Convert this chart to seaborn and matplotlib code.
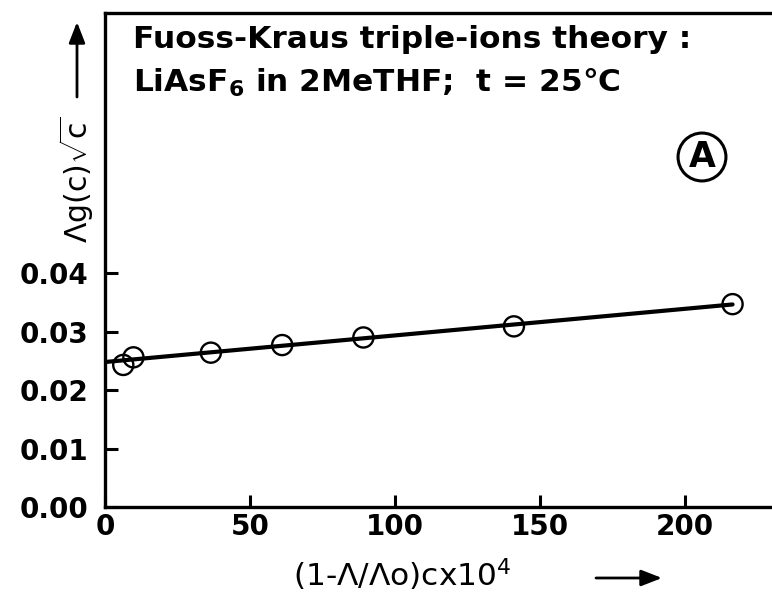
import numpy as np
import pandas as pd
import matplotlib
matplotlib.use("Agg")
import matplotlib.pyplot as plt
import seaborn as sns

# Fuoss-Kraus triple-ion plot for LiAsF6 in 2MeTHF at 25 °C
x_vals = [6.3, 9.8, 36.5, 61.1, 89.1, 141.0, 216.4]          # (1 - Λ/Λo) c x 10^4
y_vals = [0.0243, 0.0256, 0.0264, 0.0277, 0.0290, 0.0309, 0.0347]  # Λ g(c) √c

fit_intercept = 0.0248
fit_slope = 4.55e-5
fit_x = [0.0, 216.4]

x_ticks = [0, 50, 100, 150, 200]
y_ticks = [0.00, 0.01, 0.02, 0.03, 0.04]
y_tick_labels = ["0.00", "0.01", "0.02", "0.03", "0.04"]

sns.set_theme(style="ticks")
FONT = "DejaVu Sans"
plt.rcParams["font.family"] = [FONT]
plt.rcParams["text.color"] = "black"
plt.rcParams["mathtext.fontset"] = "custom"
plt.rcParams["mathtext.rm"] = FONT
plt.rcParams["mathtext.bf"] = FONT + ":bold"
plt.rcParams["mathtext.it"] = FONT

W, H = 772, 600
fig = plt.figure(figsize=(W / 100, H / 100), dpi=100)
ax = fig.add_axes([105 / W, 1 - 507 / H, 1 - 105 / W, (507 - 13) / H])

points = pd.DataFrame({"x": x_vals, "y": y_vals})
fit = pd.DataFrame({"x": fit_x,
                    "y": [fit_intercept + fit_slope * v for v in fit_x]})

sns.lineplot(data=fit, x="x", y="y", ax=ax, color="black", linewidth=3.0)
sns.scatterplot(data=points, x="x", y="y", ax=ax, marker="o", s=210,
                facecolors="none", edgecolor="black", linewidth=1.7, zorder=3)

ax.set_xlim(0, 230)
ax.set_ylim(0, 0.0845)
ax.set_xticks(x_ticks)
ax.set_yticks(y_ticks)
ax.set_yticklabels(y_tick_labels)
ax.set_xlabel("")
ax.set_ylabel("")

for side in ("left", "top", "bottom"):
    ax.spines[side].set_linewidth(2.4)
    ax.spines[side].set_color("black")
ax.spines["right"].set_visible(False)

ax.tick_params(axis="both", direction="in", length=9, width=2.2,
               colors="black", labelsize=20)
ax.tick_params(axis="y", pad=12)
ax.tick_params(axis="x", pad=4)
for lab in ax.get_xticklabels() + ax.get_yticklabels():
    lab.set_fontweight("bold")
    lab.set_color("black")

# Header text inside the frame
fig.text(133 / W, 1 - 48 / H, "Fuoss-Kraus triple-ions theory :",
         fontsize=22.5, fontweight="bold", va="baseline", ha="left")
fig.text(133 / W, 1 - 92 / H, r"LiAsF$_\mathbf{6}$ in 2MeTHF;  t = 25°C",
         fontsize=22.5, fontweight="bold", va="baseline", ha="left")

# Panel tag
fig.text(702 / W, 1 - 157 / H, "A", fontsize=25, fontweight="bold",
         ha="center", va="center",
         bbox=dict(boxstyle="circle,pad=0.2", fc="none", ec="black", lw=2.2))

# Axis titles with direction arrows
fig.text(77 / W, 1 - 180 / H, r"Λg(c)$\sqrt{\mathrm{c}}$", rotation=90,
         fontsize=21.5, ha="center", va="center")
fig.text(402 / W, 1 - 575 / H, "(1-Λ/Λo)cx10$^4$",
         fontsize=22.5, ha="center", va="center")

arrow = dict(arrowstyle="-|>,head_length=0.9,head_width=0.35", color="black",
             lw=2.0, shrinkA=0, shrinkB=0)
fig.add_artist(matplotlib.patches.FancyArrowPatch(
    (77 / W, 1 - 97 / H), (77 / W, 1 - 22 / H), transform=fig.transFigure,
    mutation_scale=14, **arrow))
fig.add_artist(matplotlib.patches.FancyArrowPatch(
    (596 / W, 1 - 578 / H), (662 / W, 1 - 578 / H), transform=fig.transFigure,
    mutation_scale=14, **arrow))

fig.savefig("out.png", dpi=100)
